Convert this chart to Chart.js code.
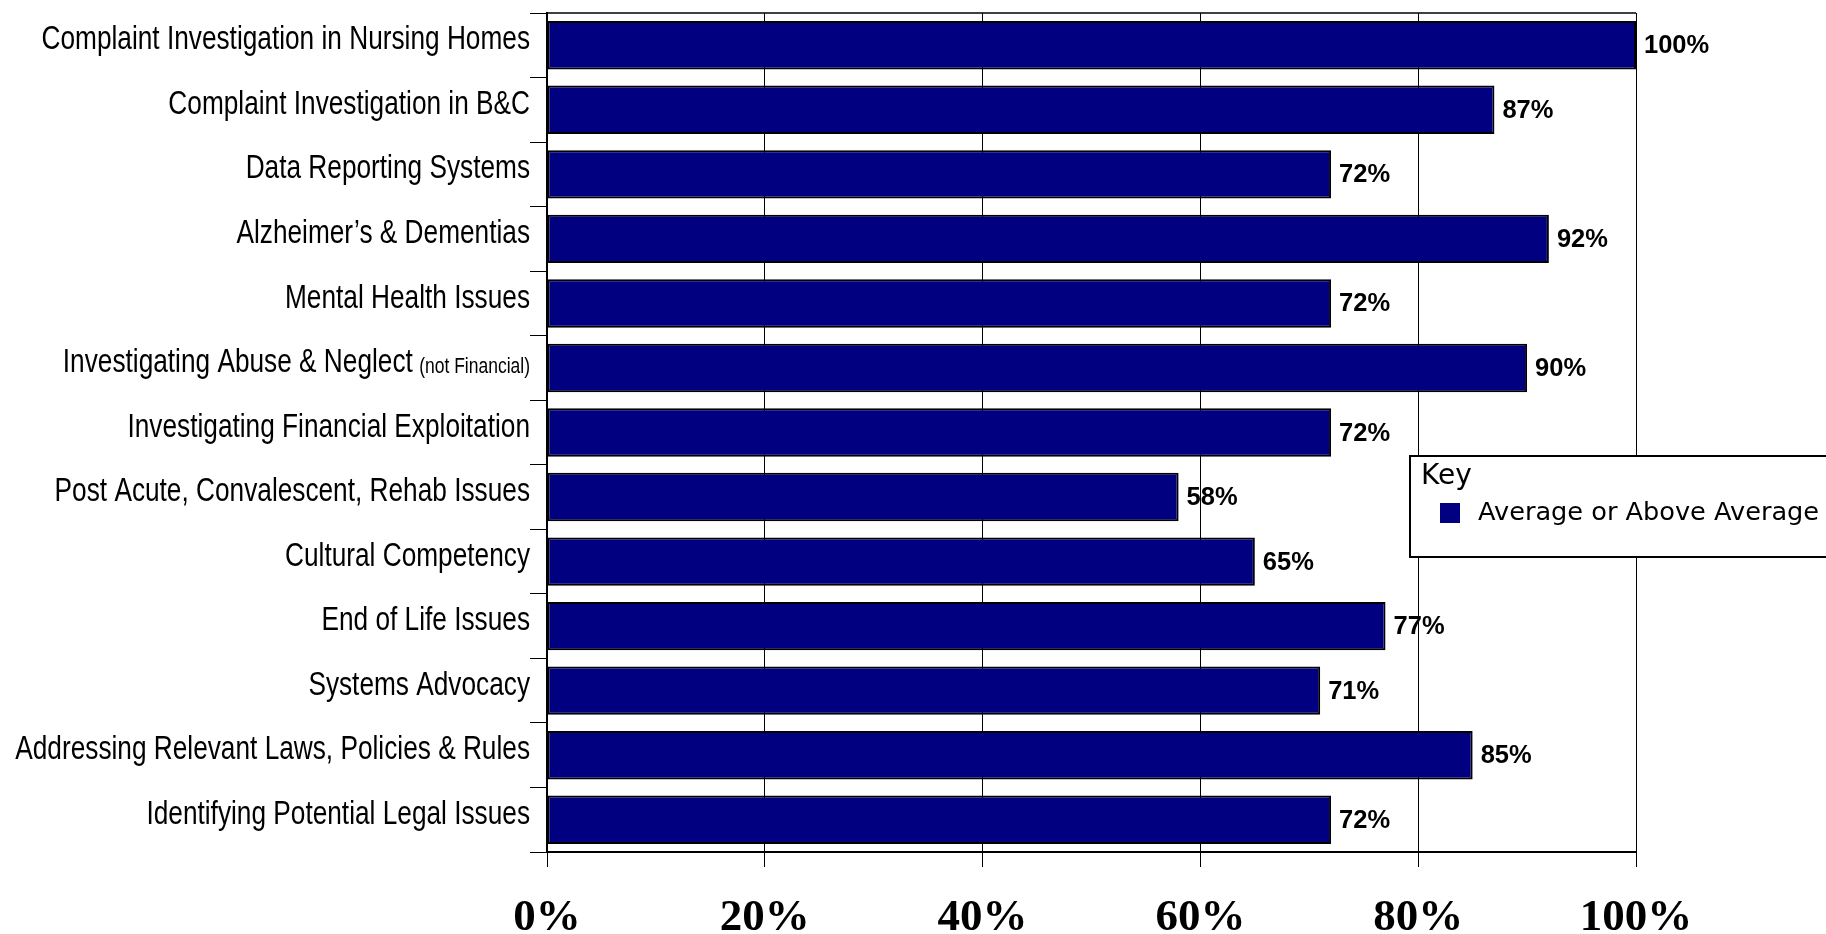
<!DOCTYPE html>
<html><head><meta charset="utf-8">
<script src="https://cdn.jsdelivr.net/npm/chart.js@4"></script>
<style>html,body{margin:0;padding:0;background:#fff;overflow:hidden}#wrap{width:1826px;height:934px;position:relative}</style>
</head><body><div id="wrap"><canvas id="c"></canvas></div>
<script>
const categories = [
  'Complaint Investigation in Nursing Homes',
  'Complaint Investigation in B&C',
  'Data Reporting Systems',
  'Alzheimer\u2019s & Dementias',
  'Mental Health Issues',
  'Investigating Abuse & Neglect',
  'Investigating Financial Exploitation',
  'Post Acute, Convalescent, Rehab Issues',
  'Cultural Competency',
  'End of Life Issues',
  'Systems Advocacy',
  'Addressing Relevant Laws, Policies & Rules',
  'Identifying Potential Legal Issues'
];
const categoryNotes = ['', '', '', '', '', '(not Financial)', '', '', '', '', '', '', ''];
const values = [100, 87, 72, 92, 72, 90, 72, 58, 65, 77, 71, 85, 72];
const tickLabels = ['0%', '20%', '40%', '60%', '80%', '100%'];
const seriesName = 'Average or Above Average';
const legendTitle = 'Key';

const SANS = "'Liberation Sans', Arial, sans-serif";
const BAR = '#000080';
const NARROW_SCALE = 0.795;

const framePlugin = {
  id: 'frame',
  beforeDatasetsDraw(chart) {
    const {ctx, chartArea: a} = chart;
    ctx.save();
    ctx.strokeStyle = '#000'; ctx.lineWidth = 1.5;
    ctx.beginPath(); ctx.moveTo(a.left, a.top); ctx.lineTo(a.right, a.top); ctx.stroke();
    ctx.restore();
  }
};

const valueLabelPlugin = {
  id: 'valueLabels',
  afterDatasetsDraw(chart) {
    const {ctx} = chart;
    const meta = chart.getDatasetMeta(0);
    ctx.save();
    ctx.font = "bold 25.5px " + SANS;
    ctx.fillStyle = '#000'; ctx.textAlign = 'left'; ctx.textBaseline = 'middle';
    meta.data.forEach((bar, i) => {
      ctx.fillText(chart.data.datasets[0].data[i] + '%', bar.x + 8, bar.y + 1);
    });
    ctx.restore();
  }
};

// category labels drawn in a condensed form (Arial Narrow look)
const categoryLabelPlugin = {
  id: 'categoryLabels',
  afterDraw(chart) {
    const {ctx} = chart;
    const ys = chart.scales.y;
    const xr = ys.right - 17;
    ctx.save();
    ctx.fillStyle = '#000'; ctx.textAlign = 'right'; ctx.textBaseline = 'middle';
    chart.data.labels.forEach((label, i) => {
      const y = ys.getPixelForTick(i) - 5;
      ctx.save();
      ctx.translate(xr, y);
      ctx.scale(NARROW_SCALE, 1);
      let x = 0;
      const note = categoryNotes[i];
      if (note) {
        ctx.font = '22px ' + SANS;
        ctx.fillText(note, 0, 4);
        x = -ctx.measureText(note).width - 8;
      }
      ctx.font = '33px ' + SANS;
      ctx.fillText(label, x, 0);
      ctx.restore();
    });
    ctx.restore();
  }
};

const keyPlugin = {
  id: 'keyBox',
  afterDraw(chart) {
    const {ctx, chartArea: a} = chart;
    const ds = chart.data.datasets[0];
    const left = a.right - 226, top = 456, h = 101;
    ctx.save();
    ctx.fillStyle = '#fff';
    ctx.fillRect(left, top, chart.width - left + 10, h);
    ctx.strokeStyle = '#000'; ctx.lineWidth = 2;
    ctx.strokeRect(left, top, chart.width - left + 10, h);
    ctx.fillStyle = '#000';
    ctx.textAlign = 'left'; ctx.textBaseline = 'middle';
    ctx.font = "28px 'DejaVu Sans', Verdana, sans-serif";
    ctx.fillText(legendTitle, left + 11, top + 21);
    ctx.font = "25.6px 'DejaVu Sans', Verdana, sans-serif";
    ctx.fillStyle = ds.backgroundColor;
    ctx.fillRect(left + 30, top + 47, 20, 20);
    ctx.fillStyle = '#000';
    ctx.fillText(ds.label, left + 68, top + 57);
    ctx.restore();
  }
};

new Chart(document.getElementById('c'), {
  type: 'bar',
  data: {
    labels: categories,
    datasets: [{
      label: seriesName,
      data: values,
      backgroundColor: BAR,
      borderColor: '#000',
      borderWidth: 2,
      borderSkipped: false,
      categoryPercentage: 1,
      barPercentage: 0.75
    }]
  },
  options: {
    indexAxis: 'y',
    responsive: true,
    maintainAspectRatio: false,
    animation: false,
    devicePixelRatio: 1,
    layout: {padding: {top: 13, right: 190, bottom: 0, left: 0}},
    plugins: {legend: {display: false}, tooltip: {enabled: false}},
    scales: {
      x: {
        type: 'linear', min: 0, max: 100,
        afterFit(s) { s.height = 82; },
        grid: {color: '#000', lineWidth: 1, tickLength: 15, drawOnChartArea: true},
        border: {color: '#000', width: 2},
        ticks: {
          stepSize: 20, maxRotation: 0, padding: 24, color: '#000',
          font: {family: "'Liberation Serif','Times New Roman',serif", weight: 'bold', size: 45},
          callback: (v, i) => tickLabels[i]
        }
      },
      y: {
        type: 'category', offset: true,
        afterFit(s) { s.width = 547; },
        grid: {color: '#000', lineWidth: 1, tickLength: 17, drawOnChartArea: false, offset: true},
        border: {color: '#000', width: 2},
        ticks: {display: false, autoSkip: false}
      }
    }
  },
  plugins: [framePlugin, valueLabelPlugin, categoryLabelPlugin, keyPlugin]
});
</script></body></html>
